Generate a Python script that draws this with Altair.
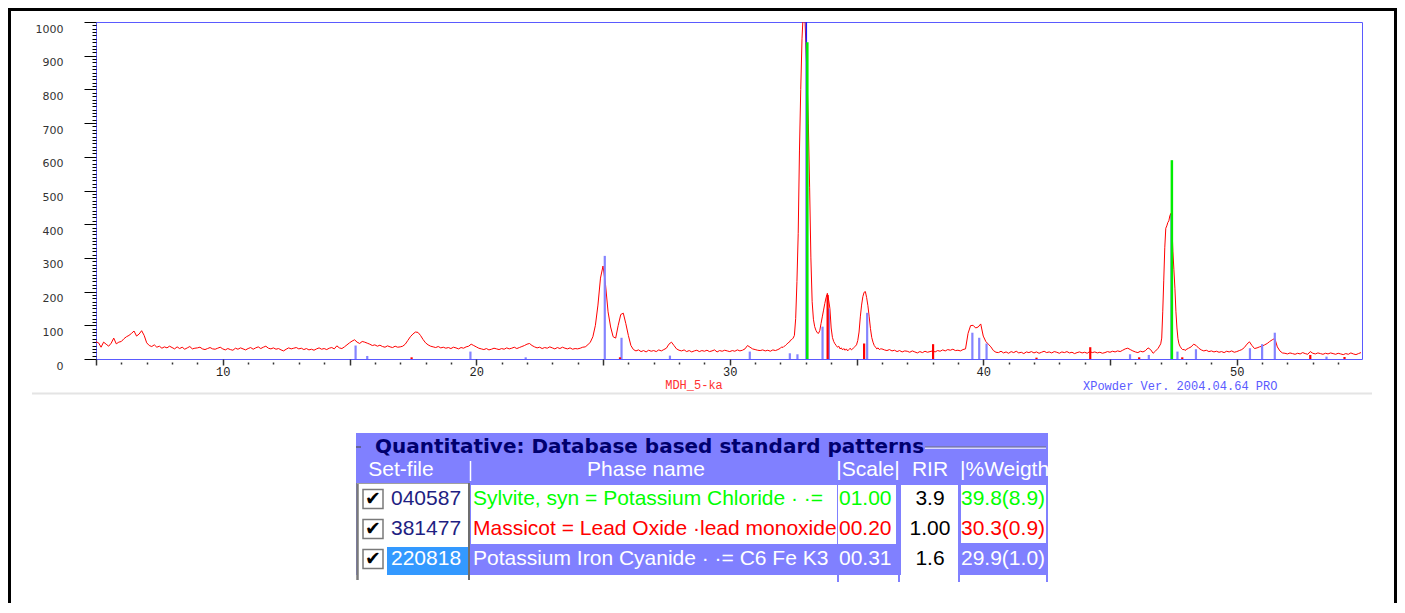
import altair as alt
import pandas as pd

# ---------------- diffraction scan (counts) ----------------
seg_start = [5.0, 32.0, 36.0, 47.0, 48.0]
seg_step = [0.1, 0.05, 0.1, 0.04, 0.1]

counts_a = [  # 5.0 .. 31.9
    51, 48, 35, 50, 44, 38, 47, 62, 45, 50,
    52, 60, 66, 70, 76, 83, 68, 74, 84, 70,
    48, 40, 37, 42, 35, 38, 32, 36, 33, 38,
    34, 30, 36, 31, 35, 29, 33, 37, 30, 32,
    33, 35, 30, 28, 31, 34, 30, 29, 32, 35,
    30, 27, 31, 28, 26, 32, 29, 33, 30, 27,
    31, 34, 29, 33, 36, 31, 35, 38, 32, 30,
    33, 29, 31, 27, 24, 29, 33, 30, 32, 34,
    30, 32, 28, 31, 27, 29, 26, 30, 33, 29,
    31, 28, 32, 34, 30, 39, 33, 31, 36, 42,
    48, 53, 57, 50, 46, 52, 50, 47, 44, 40,
    42, 38, 41, 37, 35, 39, 36, 34, 38, 35,
    36, 38, 44, 55, 66, 74, 80, 79, 70, 58,
    48, 42, 38, 36, 34, 37, 33, 35, 32, 34,
    31, 35, 33, 30, 34, 32, 36, 38, 44, 40,
    36, 32, 30, 28, 31, 27, 29, 32, 30, 28,
    31, 29, 33, 30, 32, 35, 31, 34, 37, 40,
    44, 46, 40, 36, 33, 35, 31, 34, 32, 36,
    33, 30, 34, 31, 35, 32, 30, 33, 29, 31,
    30, 32, 35, 36, 42, 50, 66, 100, 160, 240,
    276, 220, 140, 95, 66, 62, 100, 132, 136, 105,
    70, 40, 28, 24, 27, 22, 25, 21, 26, 23,
    25, 22, 27, 24, 28, 32, 44, 50, 40, 30,
    26, 24, 27, 22, 25, 21, 24, 26, 22, 25,
    23, 26, 22, 24, 27, 21, 25, 23, 26, 24,
    22, 25, 23, 27, 24, 26, 30, 40, 35, 30,
    28, 26, 25, 27, 24, 26, 23, 27, 25, 28,
]
counts_b = [  # 32.00 .. 35.95
    32, 36, 34, 38, 40, 44, 48, 50, 56, 58,
    62, 70, 120, 230, 373, 620, 800, 950, 1030, 1040,
    940, 830, 700, 510, 300, 170, 118, 96, 85, 78,
    76, 84, 105, 125, 145, 165, 182, 195, 175, 150,
    92, 64, 52, 45, 40, 35, 38, 30, 33, 27,
    31, 26, 30, 24, 28, 32, 27, 30, 34, 38,
    42, 55, 80, 125, 160, 185, 198, 200, 182, 158,
    125, 90, 64, 50, 40, 35, 30, 33, 28, 30,
]
counts_c = [  # 36.0 .. 46.9
    30, 27, 25, 28, 24, 26, 22, 25, 21, 24,
    23, 20, 24, 21, 18, 22, 19, 23, 20, 22,
    24, 21, 25, 23, 27, 24, 28, 26, 29, 25,
    26, 24, 28, 30, 76, 99, 100, 92, 95, 104,
    68, 52, 44, 36, 25, 20, 19, 23, 18, 21,
    17, 22, 19, 23, 18, 20, 16, 21, 19, 22,
    18, 21, 17, 20, 23, 19, 21, 18, 22, 20,
    17, 21, 19, 22, 18, 20, 16, 19, 21, 18,
    20, 17, 22, 19, 21, 18, 20, 17, 19, 22,
    20, 23, 21, 24, 22, 26, 30, 32, 28, 24,
    21, 19, 23, 21, 25, 33, 28, 17, 24, 32,
]
counts_d = [  # 47.00 .. 47.96
    45, 62, 140, 234, 330, 388, 395, 405, 410, 425,
    432, 400, 320, 265, 210, 140, 92, 60, 45, 38,
    33, 30, 27, 29, 25,
]
counts_e = [  # 48.0 .. 54.9
    28, 32, 36, 44, 40, 32, 27, 24, 26, 22,
    24, 21, 23, 20, 22, 19, 23, 21, 24, 20,
    22, 25, 28, 34, 44, 51, 40, 31, 33, 36,
    38, 42, 46, 52, 57, 61, 36, 24, 18, 17,
    15, 18, 16, 14, 17, 15, 19, 16, 14, 22,
    17, 15, 18, 16, 14, 17, 15, 18, 16, 14,
    17, 15, 13, 16, 14, 18, 15, 13, 16, 19,
]

# ---------------- reference patterns (stick positions / heights) ----------------
cyanide_2theta = [15.24, 15.70, 19.77, 21.95, 25.07, 25.73, 27.64, 30.79, 32.37, 32.67,
                  33.66, 33.91, 35.42, 39.57, 39.84, 40.13, 45.79, 46.53, 47.66, 48.39,
                  50.52, 51.00, 51.50, 53.54]
cyanide_int = [40, 9, 22, 5, 306, 63, 10, 22, 17, 14,
               96, 150, 137, 78, 63, 46, 14, 12, 22, 29,
               32, 44, 78, 7]
sylvite_2theta = [33.06, 47.44]
sylvite_int = [940, 590]
massicot_2theta = [17.45, 25.67, 33.86, 35.30, 38.02, 42.10, 44.22, 46.15, 47.85, 52.90, 54.25]
massicot_int = [5, 5, 190, 46, 44, 4, 35, 5, 5, 12, 6]
marker_2theta = [33.02, 47.42]
marker_int = [1000, 430]

# ---------------- quantitative table ----------------
table_title = "Quantitative: Database based standard patterns"
header_labels = ["Set-file", "Phase name", "|Scale|", "RIR", "|%Weigth"]
set_files = ["040587", "381477", "220818"]
phase_names = ["Sylvite, syn = Potassium Chloride \u00b7 \u00b7=",
               "Massicot = Lead Oxide \u00b7lead monoxide",
               "Potassium Iron Cyanide \u00b7 \u00b7= C6 Fe K3"]
scale_factors = ["01.00", "00.20", "00.31"]
rir_values = ["3.9", "1.00", "1.6"]
weight_pct = ["39.8(8.9)", "30.3(0.9)", "29.9(1.0)"]
phase_colors = ["#00ff00", "#ff0000", "#ffffff"]
setfile_colors = ["#1e1e82", "#1e1e82", "#ffffff"]
sample_name = "MDH_5-ka"
software_label = "XPowder Ver. 2004.04.64 PRO"

# ---------------- build tables ----------------
scan_rows = []
for start, step, vals in zip(seg_start, seg_step, [counts_a, counts_b, counts_c, counts_d, counts_e]):
    for i, v in enumerate(vals):
        scan_rows.append({"two_theta": round(start + i * step, 3), "counts": v})
scan_df = pd.DataFrame(scan_rows)


def sticks(pos, ints):
    return pd.DataFrame({"two_theta": pos, "counts": ints, "base": [0] * len(pos)})


XS = alt.Scale(domain=[5, 54.94], nice=False, zero=False)
YS = alt.Scale(domain=[0, 1000], nice=False)

x_axis = alt.Axis(
    values=list(range(5, 55)), title=None, grid=False, domain=False,
    tickSize=6, tickWidth=1.5, tickColor="#333333",
    tickDash={"condition": {"test": "datum.value % 5 === 0", "value": [20, 1]}, "value": [0, 3, 2, 30]},
    labelExpr="datum.value % 10 === 0 ? datum.label : ''", format="d",
    labelFont="Liberation Mono", labelFontSize=12, labelColor="#222222",
    labelPadding=1, labelOverlap=False, labelFlush=False,
)
y_axis = alt.Axis(
    values=list(range(0, 1001, 10)), title=None, grid=False, domain=False,
    tickSize=12, tickWidth=1, tickColor="#000000",
    tickDash={"condition": {"test": "datum.value % 100 === 0", "value": [30, 1]}, "value": [4, 30]},
    labelExpr="datum.value % 100 === 0 ? datum.label : ''", format="d",
    labelFont="DejaVu Sans", labelFontSize=11, labelColor="#333333",
    labelPadding=21, labelOffset=7, labelOverlap=False, labelFlush=False,
)

X = alt.X("two_theta:Q", scale=XS, axis=x_axis)
Y = alt.Y("counts:Q", scale=YS, axis=y_axis)

curve = alt.Chart(scan_df).mark_line(color="#ff0000", strokeWidth=1, clip=True).encode(x=X, y=Y)


def stick_layer(df, color, width):
    return alt.Chart(df).mark_rule(color=color, strokeWidth=width).encode(
        x=X, y=alt.Y("base:Q", scale=YS, axis=y_axis), y2="counts:Q")


plot = alt.layer(
    curve,
    stick_layer(sticks(cyanide_2theta, cyanide_int), "#8484ff", 2.2),
    stick_layer(sticks(massicot_2theta, massicot_int), "#ff0000", 2.2),
    stick_layer(sticks(marker_2theta, marker_int), "#1a1aff", 1.5),
    stick_layer(sticks(sylvite_2theta, sylvite_int), "#00ee00", 2.5),
)

# ---------------- table (own scales, table-local pixel units) ----------------
TX = alt.Scale(domain=[0, 692], range=[260, 952], nice=False, zero=False)
TY = alt.Scale(domain=[0, 147], range=[411, 558], nice=False, zero=False)
row_y = [66, 96, 126]
PERI = "#8080ff"

rects = pd.DataFrame([
    dict(tx=0, tx2=692, ty=0, ty2=142, fill=PERI, stroke=PERI, sw=0),
    dict(tx=1, tx2=114, ty=50, ty2=147, fill="#ffffff", stroke="#ffffff", sw=0),
    dict(tx=115, tx2=481, ty=52, ty2=111, fill="#ffffff", stroke="#ffffff", sw=0),
    dict(tx=482, tx2=540, ty=52, ty2=111, fill="#ffffff", stroke="#ffffff", sw=0),
    dict(tx=545, tx2=602, ty=52, ty2=147, fill="#ffffff", stroke="#ffffff", sw=0),
    dict(tx=605, tx2=690, ty=52, ty2=110, fill="#ffffff", stroke="#ffffff", sw=0),
    dict(tx=31, tx2=112, ty=114, ty2=142, fill="#3399ff", stroke="#3399ff", sw=0),
] + [dict(tx=7, tx2=27, ty=c - 9.5, ty2=c + 9.5, fill="#ffffff", stroke="#7a7a7a", sw=1.5) for c in row_y])

rules = pd.DataFrame([
    dict(tx=1.5, tx2=1.5, ty=50, ty2=147, color="#7a7a7a", w=2.5),
    dict(tx=1, tx2=114, ty=50.5, ty2=50.5, color="#a0a0a0", w=1),
    dict(tx=113, tx2=113, ty=50, ty2=147, color="#6e6e6e", w=2),
    dict(tx=114.5, tx2=114.5, ty=28, ty2=48, color="#ffffff", w=1.5),
    dict(tx=0, tx2=5, ty=14, ty2=14, color="#5a5a7a", w=1.5),
    dict(tx=569, tx2=690, ty=14, ty2=14, color="#707070", w=1),
    dict(tx=569, tx2=690, ty=15.2, ty2=15.2, color="#ffffff", w=1),
    dict(tx=482, tx2=482, ty=142, ty2=149, color=PERI, w=2),
    dict(tx=543, tx2=543, ty=142, ty2=149, color=PERI, w=2),
    dict(tx=603, tx2=603, ty=142, ty2=149, color=PERI, w=2),
    dict(tx=691, tx2=691, ty=142, ty2=149, color=PERI, w=2),
])

TXE = alt.X("tx:Q", scale=TX, axis=None)
TYE = alt.Y("ty:Q", scale=TY, axis=None)

rect_layer = alt.Chart(rects).mark_rect().encode(
    x=TXE, x2="tx2:Q", y=TYE, y2="ty2:Q",
    fill=alt.Fill("fill:N", scale=None), stroke=alt.Stroke("stroke:N", scale=None),
    strokeWidth=alt.StrokeWidth("sw:Q", scale=None))
rule_layer = alt.Chart(rules).mark_rule().encode(
    x=TXE, x2="tx2:Q", y=TYE, y2="ty2:Q",
    color=alt.Color("color:N", scale=None), strokeWidth=alt.StrokeWidth("w:Q", scale=None))


def text_layer(df, **kw):
    return alt.Chart(df).mark_text(baseline="middle", **kw).encode(
        x=TXE, y=TYE, text="text:N", color=alt.Color("color:N", scale=None))


def tdf(xs, ys, texts, colors):
    return pd.DataFrame({"tx": xs, "ty": ys, "text": texts, "color": colors})


FONT = "Liberation Sans"
table = alt.layer(
    rect_layer, rule_layer,
    text_layer(tdf([19], [14], [table_title], ["#00006e"]), align="left", font="DejaVu Sans", fontSize=20, fontWeight="bold"),
    text_layer(tdf([45, 290, 512, 574], [37] * 4, header_labels[:4], ["#ffffff"] * 4), align="center", font=FONT, fontSize=21),
    text_layer(tdf([604], [37], header_labels[4:], ["#ffffff"]), align="left", font=FONT, fontSize=21),
    text_layer(tdf([17] * 3, row_y, ["\u2714"] * 3, ["#000000"] * 3), align="center", font="DejaVu Sans", fontSize=19),
    text_layer(tdf([35] * 3, row_y, set_files, setfile_colors), align="left", font=FONT, fontSize=21),
    text_layer(tdf([117] * 3, row_y, phase_names, phase_colors), align="left", font=FONT, fontSize=21),
    text_layer(tdf([483] * 3, row_y, scale_factors, phase_colors), align="left", font=FONT, fontSize=21),
    text_layer(tdf([574] * 3, row_y, rir_values, ["#000000"] * 3), align="center", font=FONT, fontSize=21),
    text_layer(tdf([605] * 3, row_y, weight_pct, phase_colors), align="left", font=FONT, fontSize=21),
)

# ---------------- annotations and frame ----------------
one = pd.DataFrame({"k": [0]})
annot = alt.layer(
    alt.Chart(pd.DataFrame({"t": [sample_name]})).mark_text(
        font="Liberation Mono", fontSize=12, color="#ff3030", align="center", baseline="middle"
    ).encode(text="t:N", x=alt.value(598), y=alt.value(363)),
    alt.Chart(pd.DataFrame({"t": [software_label]})).mark_text(
        font="Liberation Mono", fontSize=12, color="#5a5aff", align="left", baseline="middle"
    ).encode(text="t:N", x=alt.value(987), y=alt.value(363.5)),
    alt.Chart(one).mark_rule(color="#e4e4e4", strokeWidth=2).encode(
        x=alt.value(-64), x2=alt.value(1276), y=alt.value(371.5)),
    alt.Chart(one).mark_rule(color="#000000", strokeWidth=3).encode(
        x=alt.value(-88), x2=alt.value(1301), y=alt.value(-12.5)),
    alt.Chart(one).mark_rule(color="#000000", strokeWidth=3).encode(
        x=alt.value(-86.5), y=alt.value(-14), y2=alt.value(581)),
    alt.Chart(one).mark_rule(color="#000000", strokeWidth=3).encode(
        x=alt.value(1299.5), y=alt.value(-14), y2=alt.value(581)),
)

chart = alt.layer(plot, table, annot).resolve_scale(
    x="independent", y="independent"
).properties(
    width=1266, height=337,
    autosize=alt.AutoSizeParams(type="none"),
    padding={"left": 88, "top": 14, "right": 35, "bottom": 244},
).configure_view(stroke="#5a5aff", strokeWidth=1)

chart.save("out.html", embed_options={"renderer": "svg", "actions": False})
